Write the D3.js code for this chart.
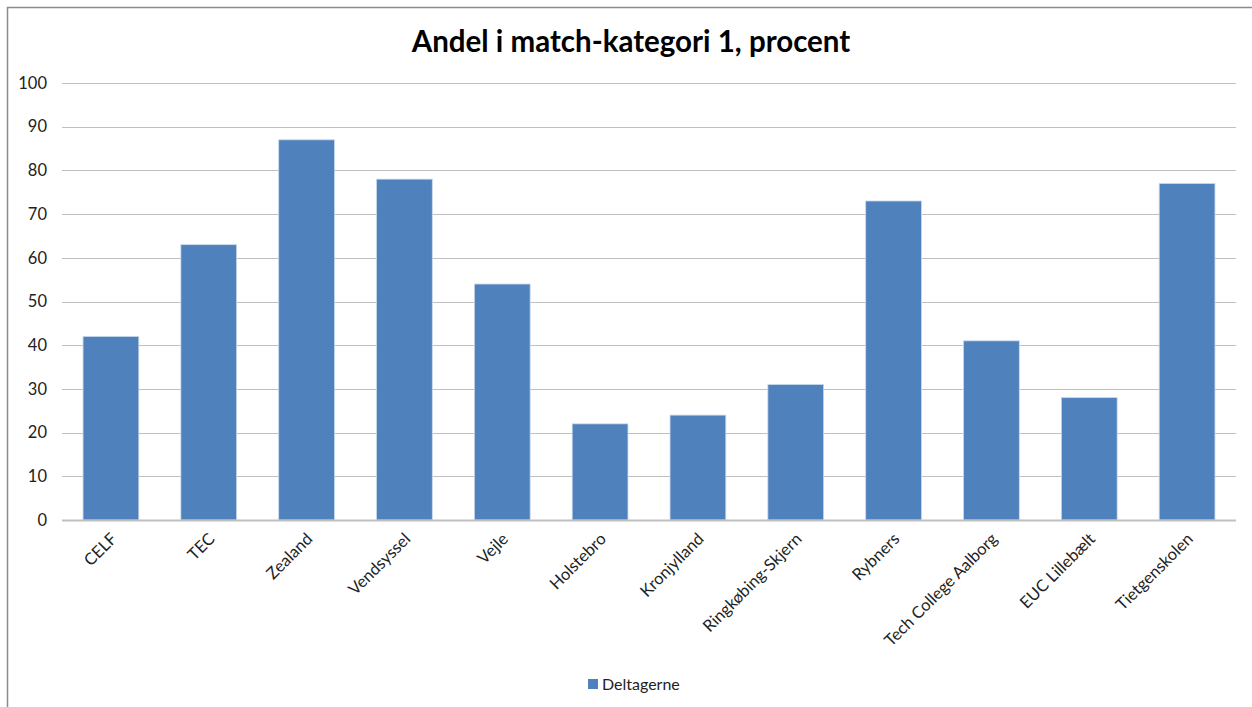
<!DOCTYPE html>
<html><head><meta charset="utf-8">
<script src="https://cdn.jsdelivr.net/npm/d3@7"></script>
<style>html,body{margin:0;padding:0;background:#fff;}svg{display:block;}</style>
</head><body>
<script>
const categories = ["CELF","TEC","Zealand","Vendsyssel","Vejle","Holstebro","Kronjylland","Ringkøbing-Skjern","Rybners","Tech College Aalborg","EUC Lillebælt","Tietgenskolen"];
const values = [42,63,87,78,54,22,24,31,73,41,28,77];
const yTicks = [0,10,20,30,40,50,60,70,80,90,100];
const seriesName = "Deltagerne";
const title = "Andel i match-kategori 1, procent";

(function () {
const W = 1252, H = 707;
const font = "Lato, 'Open Sans', sans-serif";
const svg = d3.select("body").append("svg").attr("width", W).attr("height", H);

svg.append("rect").attr("x", 7.5).attr("y", 7.5).attr("width", 1300).attr("height", 800)
  .attr("fill", "#fff").attr("stroke", "#8c8c8c").attr("stroke-width", 1.5);

const mLeft = 62, mRight = 1236, mTop = 83, mBottom = 520;
const x = d3.scaleBand().domain(categories).range([mLeft, mRight]).paddingInner(0.43).paddingOuter(0.215);
const y = d3.scaleLinear().domain([0, 100]).range([mBottom, mTop]);

// gridlines
svg.append("g").selectAll("line").data(yTicks.filter(d => d > 0)).join("line")
  .attr("x1", mLeft).attr("x2", mRight)
  .attr("y1", d => Math.round(y(d)) + 0.5).attr("y2", d => Math.round(y(d)) + 0.5)
  .attr("stroke", "#c0c0c0").attr("stroke-width", 1.2);

// y axis
const yAxis = d3.axisLeft(y).tickValues(yTicks).tickSize(0).tickPadding(15);
const gy = svg.append("g").attr("transform", `translate(${mLeft},0)`).call(yAxis);
gy.select(".domain").remove();
gy.selectAll("text").attr("font-family", font).attr("font-size", 16.5).attr("fill", "#222");

// bars
svg.append("g").selectAll("rect").data(values).join("rect")
  .attr("x", (d, i) => x(categories[i]))
  .attr("width", x.bandwidth())
  .attr("y", d => y(d))
  .attr("height", d => y(0) - y(d))
  .attr("fill", "#4f81bd").attr("stroke", "#c9d7ea").attr("stroke-width", 0.8);

// x axis
const xAxis = d3.axisBottom(x).tickSize(0).tickPadding(0);
const gx = svg.append("g").attr("transform", `translate(0,${mBottom})`).call(xAxis);
gx.select(".domain").attr("stroke", "#c0c0c0").attr("stroke-width", 2).attr("d", `M${mLeft},0.5H${mRight}`);
gx.selectAll("text")
  .attr("font-family", font).attr("font-size", 16.5).attr("fill", "#222")
  .attr("text-anchor", "end").attr("dy", 0).attr("y", 0)
  .attr("transform", "translate(7,20) rotate(-45)");

// title
svg.append("text").attr("x", 631).attr("y", 52).attr("text-anchor", "middle")
  .attr("font-family", font).attr("font-weight", "bold").attr("font-size", 29.5).attr("fill", "#000")
  .text(title);

// legend
svg.append("rect").attr("x", 588).attr("y", 679).attr("width", 10).attr("height", 10).attr("fill", "#4f81bd");
svg.append("text").attr("x", 602).attr("y", 690).attr("font-family", font).attr("font-size", 16).attr("fill", "#222").text(seriesName);
})();
</script>
</body></html>
